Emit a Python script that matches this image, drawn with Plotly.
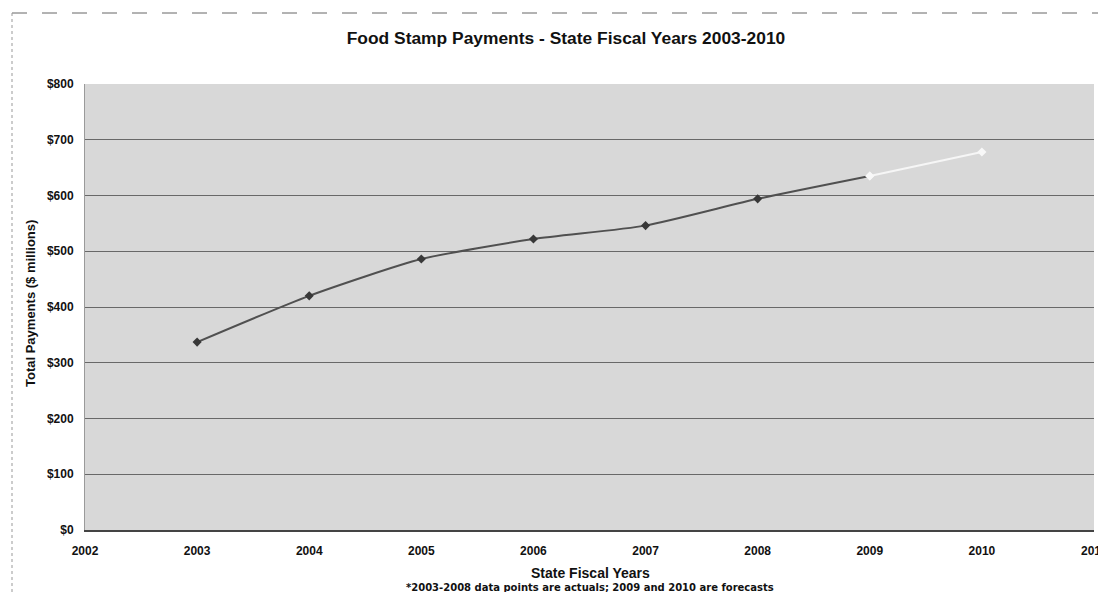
import plotly.graph_objects as go

years_actual = [2003, 2004, 2005, 2006, 2007, 2008, 2009]
payments_actual = [337, 420, 486, 522, 546, 594, 635]
years_forecast = [2009, 2010]
payments_forecast = [635, 678]

title_text = "Food Stamp Payments - State Fiscal Years 2003-2010"
x_title = "State Fiscal Years"
note_text = "*2003-2008 data points are actuals; 2009 and 2010 are forecasts"
y_title = "Total Payments ($ millions)"

fig = go.Figure()
fig.add_trace(go.Scatter(
    x=years_actual, y=payments_actual, mode="lines+markers",
    line=dict(color="#505050", width=2, shape="spline", smoothing=0.6),
    marker=dict(symbol="diamond", size=7, color=["#383838"] * 6 + ["#f4f4f4"]),
    showlegend=False, hoverinfo="x+y"))
fig.add_trace(go.Scatter(
    x=years_forecast, y=payments_forecast, mode="lines+markers",
    line=dict(color="#f6f6f6", width=2),
    marker=dict(symbol="diamond", size=7, color="#f8f8f8"),
    showlegend=False, hoverinfo="x+y"))

# page offset (body margin) = 8px
OFF = 8
L, T, R, B = 85, 84, 1094, 530   # plot area in page pixels
W, H = 1106 - 2 * OFF, 600 - 2 * OFF
PW, PH = R - L, B - T

def px(x):
    return (x - L) / PW

def py(y):
    return (B - y) / PH

font_family = "Liberation Sans, Arial, sans-serif"
fig.update_layout(
    width=W, height=H,
    margin=dict(l=L - OFF, r=W - (R - OFF), t=T - OFF, b=H - (B - OFF), autoexpand=False),
    paper_bgcolor="white", plot_bgcolor="#d8d8d8",
    font=dict(family=font_family, size=12, color="#111"),
    title=dict(text="<b>" + title_text + "</b>", x=px(566), xanchor="center",
               xref="paper",
               y=1 - (38 - OFF) / H, yanchor="middle", font=dict(size=17.4, color="#111")),
    xaxis=dict(range=[2002, 2011], dtick=1, tick0=2002, showgrid=False, automargin=False,
               tickfont=dict(size=12, color="#111"), ticks="", ticklen=0,
               tickprefix="<b>", ticksuffix="</b>", ticklabelstandoff=9,
               ticklabeloverflow="allow",
               showline=True, linecolor="#444", linewidth=1.5, zeroline=False),
    yaxis=dict(range=[0, 800], dtick=100, tickprefix="<b>$", ticksuffix="</b>", showgrid=True,
               automargin=False,
               gridcolor="#686868", gridwidth=1.3, zeroline=False,
               tickfont=dict(size=12, color="#111"), ticklabelstandoff=8,
               showline=True, linecolor="#9a9a9a", linewidth=1),
)

fig.add_annotation(text="<b>" + x_title + "</b>", xref="paper", yref="paper",
                   x=px(590), y=py(573), xanchor="center", yanchor="middle",
                   showarrow=False, font=dict(size=14, color="#111"))
fig.add_annotation(text="<b>" + note_text + "</b>", xref="paper", yref="paper",
                   x=px(590), y=py(587), xanchor="center", yanchor="middle",
                   showarrow=False, font=dict(size=10, color="#111",
                                              family="DejaVu Sans, sans-serif"))
fig.add_annotation(text="<b>" + y_title + "</b>", xref="paper", yref="paper",
                   x=px(30), y=py(304), xanchor="center", yanchor="middle", textangle=-90,
                   showarrow=False, font=dict(size=13, color="#111"))

# outer frame of the original chart
fig.add_shape(type="line", xref="paper", yref="paper",
              x0=px(12), x1=px(1106), y0=py(13), y1=py(13),
              line=dict(color="#666", width=1, dash="longdash"))
fig.add_shape(type="line", xref="paper", yref="paper",
              x0=px(12), x1=px(12), y0=py(13), y1=py(600),
              line=dict(color="#999", width=1, dash="dot"))

fig.write_html("out.html")
